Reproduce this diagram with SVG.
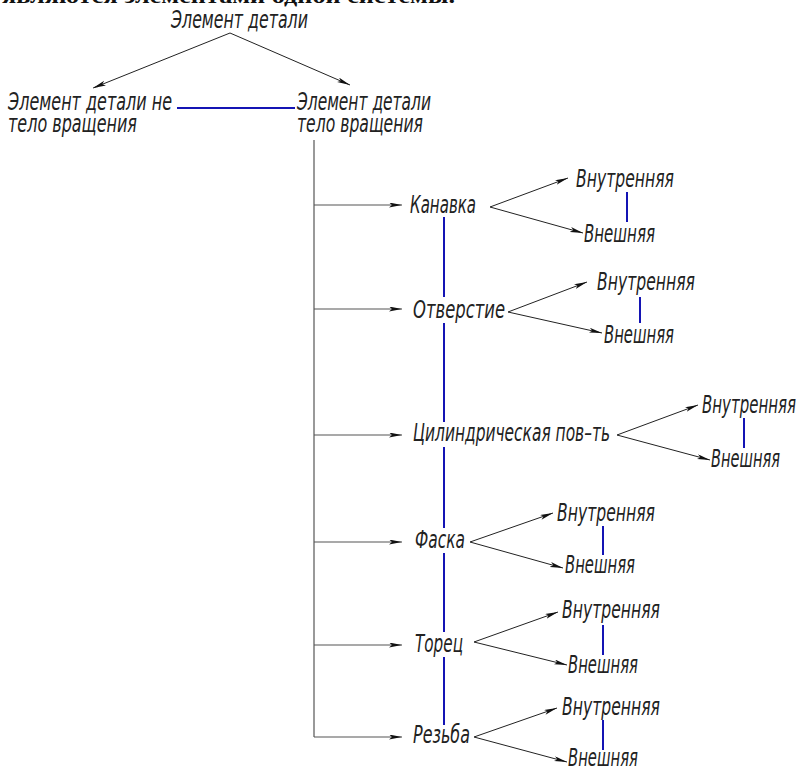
<svg xmlns="http://www.w3.org/2000/svg" width="803" height="771" viewBox="0 0 803 771">
<style>
.t{font-family:"DejaVu Sans",sans-serif;font-style:italic;font-weight:200;font-size:24px;fill:#222}
.c{stroke:#222;stroke-width:1;fill:none}
.g{stroke:#555;stroke-width:1.2;fill:none}
.b{stroke:#1414b4;stroke-width:2;fill:none}
.hdr{font-family:"Liberation Serif",serif;font-weight:bold;font-size:22px;fill:#111}
</style>
<defs>
<marker id="ah" markerUnits="userSpaceOnUse" markerWidth="14" markerHeight="6" refX="13" refY="2.5" orient="auto">
<path d="M0,0 L13,2.5 L0,5 L3,2.5 z" fill="#111"/>
</marker>
</defs>
<rect width="803" height="771" fill="#fff"/>
<text class="hdr" x="2" y="3" textLength="453" lengthAdjust="spacingAndGlyphs">являются элементами одной системы.</text>

<g id="connectors">
<line class="c" x1="230" y1="33" x2="93" y2="88" marker-end="url(#ah)"/>
<line class="c" x1="230" y1="33" x2="350" y2="85" marker-end="url(#ah)"/>
<line class="b" x1="177" y1="108" x2="295" y2="108"/>
<line class="g" x1="314" y1="140" x2="314" y2="737"/>
<line class="g" x1="314" y1="205" x2="402" y2="205" marker-end="url(#ah)"/>
<line class="g" x1="314" y1="309" x2="402" y2="309" marker-end="url(#ah)"/>
<line class="g" x1="314" y1="435" x2="402" y2="435" marker-end="url(#ah)"/>
<line class="g" x1="314" y1="542" x2="402" y2="542" marker-end="url(#ah)"/>
<line class="g" x1="314" y1="645" x2="402" y2="645" marker-end="url(#ah)"/>
<line class="g" x1="314" y1="737" x2="402" y2="737" marker-end="url(#ah)"/>
<path class="b" d="M444,217V297M444,323V422M444,447V528M444,553V632M444,657V725"/>
<line class="c" x1="490" y1="207" x2="568" y2="178" marker-end="url(#ah)"/>
<line class="c" x1="490" y1="207" x2="583" y2="233" marker-end="url(#ah)"/>
<line class="b" x1="627" y1="192" x2="627" y2="222"/>
<line class="c" x1="508" y1="312" x2="587" y2="282" marker-end="url(#ah)"/>
<line class="c" x1="508" y1="312" x2="602" y2="333" marker-end="url(#ah)"/>
<line class="b" x1="640" y1="297" x2="640" y2="323"/>
<line class="c" x1="617" y1="435" x2="698" y2="405" marker-end="url(#ah)"/>
<line class="c" x1="617" y1="435" x2="710" y2="460" marker-end="url(#ah)"/>
<line class="b" x1="744" y1="418" x2="744" y2="448"/>
<line class="c" x1="470" y1="542" x2="553" y2="513" marker-end="url(#ah)"/>
<line class="c" x1="470" y1="542" x2="563" y2="568" marker-end="url(#ah)"/>
<line class="b" x1="603" y1="526" x2="603" y2="555"/>
<line class="c" x1="474" y1="642" x2="558" y2="612" marker-end="url(#ah)"/>
<line class="c" x1="474" y1="642" x2="567" y2="665" marker-end="url(#ah)"/>
<line class="b" x1="603" y1="625" x2="603" y2="655"/>
<line class="c" x1="474" y1="737" x2="557" y2="708" marker-end="url(#ah)"/>
<line class="c" x1="474" y1="737" x2="567" y2="762" marker-end="url(#ah)"/>
<line class="b" x1="603" y1="720" x2="603" y2="750"/>
</g>

<g id="root"><text class="t" x="171" y="28" textLength="137" lengthAdjust="spacingAndGlyphs">Элемент детали</text></g>
<g id="non-rotation">
<text class="t" x="8" y="110" textLength="164" lengthAdjust="spacingAndGlyphs">Элемент детали не</text>
<text class="t" x="8" y="132" textLength="129" lengthAdjust="spacingAndGlyphs">тело вращения</text>
</g>
<g id="rotation">
<text class="t" x="297" y="110" textLength="134" lengthAdjust="spacingAndGlyphs">Элемент детали</text>
<text class="t" x="297" y="132" textLength="126" lengthAdjust="spacingAndGlyphs">тело вращения</text>
</g>

<g id="kanavka"><text class="t" x="410" y="213" textLength="66" lengthAdjust="spacingAndGlyphs">Канавка</text></g>
<g id="kanavka-in"><text class="t" x="576" y="187" textLength="98" lengthAdjust="spacingAndGlyphs">Внутренняя</text></g>
<g id="kanavka-out"><text class="t" x="584" y="242" textLength="71" lengthAdjust="spacingAndGlyphs">Внешняя</text></g>

<g id="otverstie"><text class="t" x="413" y="318" textLength="92" lengthAdjust="spacingAndGlyphs">Отверстие</text></g>
<g id="otverstie-in"><text class="t" x="597" y="290" textLength="98" lengthAdjust="spacingAndGlyphs">Внутренняя</text></g>
<g id="otverstie-out"><text class="t" x="604" y="343" textLength="70" lengthAdjust="spacingAndGlyphs">Внешняя</text></g>

<g id="cylinder"><text class="t" x="413" y="441" textLength="197" lengthAdjust="spacingAndGlyphs">Цилиндрическая пов–ть</text></g>
<g id="cylinder-in"><text class="t" x="702" y="413" textLength="94" lengthAdjust="spacingAndGlyphs">Внутренняя</text></g>
<g id="cylinder-out"><text class="t" x="711" y="467" textLength="69" lengthAdjust="spacingAndGlyphs">Внешняя</text></g>

<g id="faska"><text class="t" x="415" y="548" textLength="50" lengthAdjust="spacingAndGlyphs">Фаска</text></g>
<g id="faska-in"><text class="t" x="557" y="521" textLength="98" lengthAdjust="spacingAndGlyphs">Внутренняя</text></g>
<g id="faska-out"><text class="t" x="565" y="573" textLength="70" lengthAdjust="spacingAndGlyphs">Внешняя</text></g>

<g id="torec"><text class="t" x="415" y="652" textLength="48" lengthAdjust="spacingAndGlyphs">Торец</text></g>
<g id="torec-in"><text class="t" x="562" y="618" textLength="98" lengthAdjust="spacingAndGlyphs">Внутренняя</text></g>
<g id="torec-out"><text class="t" x="568" y="673" textLength="70" lengthAdjust="spacingAndGlyphs">Внешняя</text></g>

<g id="rezba"><text class="t" x="413" y="743" textLength="57" lengthAdjust="spacingAndGlyphs">Резьба</text></g>
<g id="rezba-in"><text class="t" x="562" y="715" textLength="98" lengthAdjust="spacingAndGlyphs">Внутренняя</text></g>
<g id="rezba-out"><text class="t" x="568" y="766" textLength="70" lengthAdjust="spacingAndGlyphs">Внешняя</text></g>
</svg>
